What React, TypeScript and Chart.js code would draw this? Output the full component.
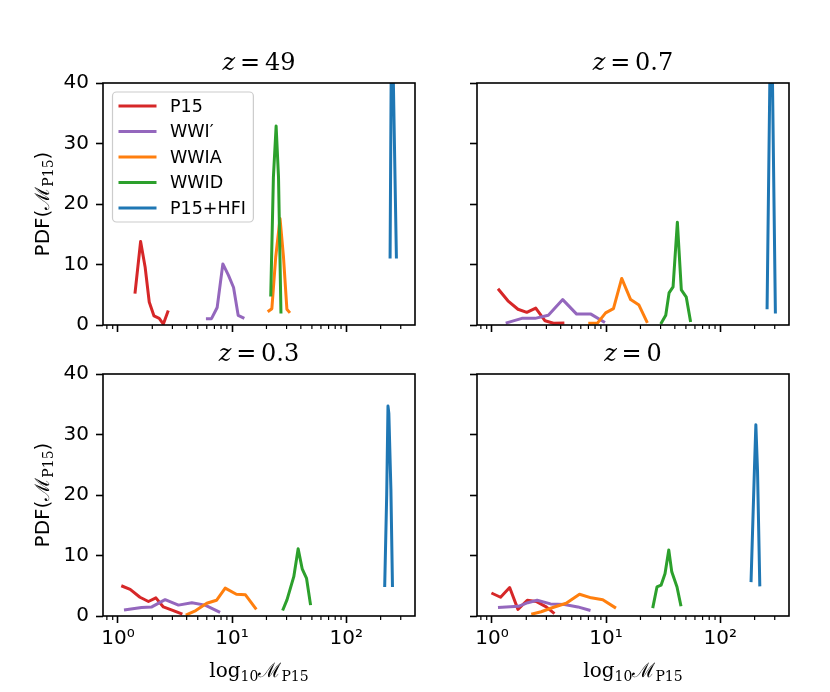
import { useEffect, useRef } from "react";
import { Chart, registerables } from "chart.js";

Chart.register(...registerables);

type Pt = [number, number];

// series + panels
const seriesNames = ["P15", "WWI′", "WWIA", "WWID", "P15+HFI"];
const seriesColors = ["#d62728", "#9467bd", "#ff7f0e", "#2ca02c", "#1f77b4"];
const panelZ = ["49", "0.7", "0.3", "0"];

// axis ticks
const xMajorTicks = [1, 10, 100];
const xTickLabels = ["10⁰", "10¹", "10²"];
const xMinorTicks = [0.8, 0.9, 2, 3, 4, 5, 6, 7, 8, 9, 20, 30, 40, 50, 60, 70, 80, 90, 200, 300];
const yTicks = [0, 10, 20, 30, 40];
const X_MIN = 0.74;
const X_MAX = 400;
const Y_MIN = 0;
const Y_MAX = 40;

// z = 49
const z49P15: Pt[] = [[1.41, 5.2], [1.58, 13.8], [1.73, 9.6], [1.88, 3.8], [2.07, 1.5], [2.3, 1.1], [2.5, 0.15], [2.76, 2.4]];
const z49WWIp: Pt[] = [[5.9, 1.05], [6.6, 1.05], [7.4, 2.9], [8.3, 10.1], [9.3, 8.2], [10.3, 6.2], [11.3, 1.6], [12.8, 1.1]];
const z49WWIA: Pt[] = [[20.5, 2.2], [22.3, 2.7], [24.1, 11.2], [26.3, 17.6], [28.2, 11.2], [30.2, 2.6], [32.1, 2.0]];
const z49WWID: Pt[] = [[21.8, 4.7], [23.0, 24.4], [24.3, 32.9], [25.5, 24.4], [26.8, 1.9]];
const z49HFI: Pt[] = [[242, 11], [250, 56], [275, 11]];

// z = 0.7
const z07P15: Pt[] = [[1.13, 6.0], [1.38, 4.0], [1.69, 2.6], [2.02, 2.1], [2.42, 2.8], [2.92, 0.7], [3.46, 0.3], [4.31, 0.35]];
const z07WWIp: Pt[] = [[1.32, 0.3], [1.83, 1.1], [2.39, 1.1], [3.12, 1.6], [4.17, 4.2], [5.52, 1.8], [7.36, 1.8], [9.77, 0.4]];
const z07WWIA: Pt[] = [[6.98, 0.3], [8.43, 0.35], [9.9, 2.0], [11.6, 2.7], [13.7, 7.7], [16.4, 4.2], [19.4, 3.3], [23.0, 0.35]];
const z07WWID: Pt[] = [[30.1, 0.15], [33.3, 1.6], [35.6, 5.3], [38.6, 6.3], [42.1, 17.0], [45.6, 5.8], [50.4, 4.6], [55, 0.5]];
const z07HFI: Pt[] = [[257, 2.6], [279, 58], [304, 1.9]];

// z = 0.3
const z03P15: Pt[] = [[1.07, 5.0], [1.28, 4.4], [1.56, 3.1], [1.85, 2.4], [2.15, 3.0], [2.5, 1.5], [3.06, 0.9], [3.67, 0.3]];
const z03WWIp: Pt[] = [[1.13, 1.0], [1.61, 1.4], [1.98, 1.5], [2.59, 2.7], [3.39, 1.8], [4.44, 2.2], [5.8, 1.8], [7.85, 0.6]];
const z03WWIA: Pt[] = [[3.93, 0.15], [4.81, 0.9], [6.0, 2.1], [7.3, 2.6], [8.7, 4.6], [10.9, 3.6], [13.1, 3.5], [16.3, 1.1]];
const z03WWID: Pt[] = [[27.7, 0.9], [30.3, 2.7], [34.7, 6.5], [37.9, 11.1], [41.1, 7.8], [44.9, 6.2], [48.7, 1.8]];
const z03HFI: Pt[] = [[217, 4.8], [226, 20], [232, 34.7], [236, 33.5], [246, 21], [254, 4.8]];

// z = 0
const z0P15: Pt[] = [[0.99, 3.8], [1.19, 3.1], [1.43, 4.7], [1.69, 1.1], [2.04, 2.6], [2.44, 2.4], [2.99, 1.5], [3.53, 0.4]];
const z0WWIp: Pt[] = [[1.13, 1.4], [1.71, 1.6], [2.06, 2.2], [2.49, 2.6], [3.26, 2.0], [4.32, 1.9], [5.65, 1.5], [7.3, 0.9]];
const z0WWIA: Pt[] = [[2.21, 0.3], [2.7, 0.7], [3.42, 1.4], [4.47, 2.1], [5.85, 3.6], [7.4, 3.0], [9.35, 2.7], [12.2, 1.3]];
const z0WWID: Pt[] = [[25.6, 1.3], [27.9, 4.8], [30.3, 5.1], [32.8, 7.0], [35.4, 10.9], [37.6, 7.3], [41.8, 4.8], [45.3, 1.6]];
const z0HFI: Pt[] = [[186, 5.6], [199, 24], [205, 31.6], [212, 24], [222, 4.9]];

const panelSeries: Pt[][][] = [
  [z49P15, z49WWIp, z49WWIA, z49WWID, z49HFI],
  [z07P15, z07WWIp, z07WWIA, z07WWID, z07HFI],
  [z03P15, z03WWIp, z03WWIA, z03WWID, z03HFI],
  [z0P15, z0WWIp, z0WWIA, z0WWID, z0HFI],
];

// layout (page pixels)
const PW = 312;
const PH = 242;
const COL_LEFT = [103, 477];
const ROW_TOP = [83, 374];
const AX_W = 80;
const AX_H = 50;
const PAD_T = 20;
const PAD_R = 20;
const LINE_W = 3;
const TICK_FONT = 20;
const LEGEND_FONT = 17.5;
const SERIF = '"DejaVu Serif", serif';
const SANS = '"DejaVu Sans", sans-serif';

const framePlugin = {
  id: "frame",
  afterDatasetsDraw(chart: any) {
    const { ctx, chartArea: a } = chart;
    ctx.save();
    ctx.strokeStyle = "#000";
    ctx.lineWidth = 1.6;
    ctx.strokeRect(a.left, a.top, a.right - a.left, a.bottom - a.top);
    ctx.restore();
  },
};

const minorTickPlugin = {
  id: "minorTicks",
  afterDraw(chart: any) {
    const { ctx, chartArea: a } = chart;
    const xs = chart.scales.x;
    ctx.save();
    ctx.strokeStyle = "#000";
    ctx.lineWidth = 1.2;
    xMinorTicks.forEach((v) => {
      const px = xs.getPixelForValue(v);
      if (px < a.left || px > a.right) return;
      ctx.beginPath();
      ctx.moveTo(px, a.bottom);
      ctx.lineTo(px, a.bottom + 4);
      ctx.stroke();
    });
    ctx.restore();
  },
};

const legendPlugin = {
  id: "insetLegend",
  afterDraw(chart: any) {
    const { ctx, chartArea: a } = chart;
    const row = 25.5;
    ctx.save();
    ctx.font = `${LEGEND_FONT}px ${SANS}`;
    const textW = Math.max(...seriesNames.map((n) => ctx.measureText(n).width));
    const bx = a.left + 9.5;
    const by = a.top + 9;
    const bw = 57 + textW + 8;
    const bh = 28 + row * (seriesNames.length - 1);
    ctx.beginPath();
    ctx.roundRect(bx, by, bw, bh, 4);
    ctx.fillStyle = "rgba(255,255,255,0.8)";
    ctx.fill();
    ctx.strokeStyle = "#cccccc";
    ctx.lineWidth = 1.2;
    ctx.stroke();
    seriesNames.forEach((name, i) => {
      const cy = by + 14 + i * row;
      ctx.strokeStyle = seriesColors[i];
      ctx.lineWidth = LINE_W;
      ctx.beginPath();
      ctx.moveTo(bx + 6, cy);
      ctx.lineTo(bx + 44, cy);
      ctx.stroke();
      ctx.fillStyle = "#000";
      ctx.textBaseline = "middle";
      ctx.textAlign = "left";
      ctx.fillText(name, bx + 57.5, cy + 1);
    });
    ctx.restore();
  },
};

function Panel({ index }: { index: number }) {
  const ref = useRef<HTMLCanvasElement | null>(null);
  const col = index % 2;
  const row = Math.floor(index / 2);
  const showX = row === 1;
  const showY = col === 0;
  const left = COL_LEFT[col] - AX_W;
  const top = ROW_TOP[row] - PAD_T;
  const width = AX_W + PW + PAD_R;
  const height = PAD_T + PH + AX_H;

  useEffect(() => {
    if (!ref.current) return;
    const chart = new Chart(ref.current, {
      type: "scatter",
      data: {
        datasets: panelSeries[index].map((pts, i) => ({
          label: seriesNames[i],
          data: pts.map(([x, y]) => ({ x, y })),
          borderColor: seriesColors[i],
          backgroundColor: seriesColors[i],
          borderWidth: LINE_W,
          borderJoinStyle: "round" as const,
          showLine: true,
          pointRadius: 0,
          pointHoverRadius: 0,
          order: -i,
        })),
      },
      options: {
        animation: false,
        responsive: false,
        maintainAspectRatio: false,
        events: [],
        layout: { padding: { top: PAD_T, right: PAD_R, left: 0, bottom: 0 } },
        plugins: {
          legend: { display: false },
          tooltip: { enabled: false },
          title: { display: false },
        },
        scales: {
          x: {
            type: "logarithmic",
            min: X_MIN,
            max: X_MAX,
            bounds: "data",
            afterBuildTicks: (s: any) => {
              s.ticks = xMajorTicks.map((v) => ({ value: v, major: true }));
            },
            afterFit: (s: any) => {
              s.height = AX_H;
            },
            border: { display: false },
            grid: {
              drawOnChartArea: false,
              drawTicks: true,
              tickLength: 7,
              tickWidth: 1.6,
              tickColor: "#000",
            },
            ticks: {
              autoSkip: false,
              maxRotation: 0,
              minRotation: 0,
              padding: 4,
              color: "#000",
              font: { family: SANS, size: TICK_FONT },
              callback: (v: any) => {
                if (!showX) return "";
                const k = xMajorTicks.indexOf(Number(v));
                return k >= 0 ? xTickLabels[k] : "";
              },
            },
          },
          y: {
            type: "linear",
            min: Y_MIN,
            max: Y_MAX,
            afterBuildTicks: (s: any) => {
              s.ticks = yTicks.map((v) => ({ value: v }));
            },
            afterFit: (s: any) => {
              s.width = AX_W;
            },
            border: { display: false },
            grid: {
              drawOnChartArea: false,
              drawTicks: true,
              tickLength: 7,
              tickWidth: 1.6,
              tickColor: "#000",
            },
            ticks: {
              autoSkip: false,
              padding: 7,
              color: "#000",
              font: { family: SANS, size: TICK_FONT },
              callback: (v: any) => (showY ? String(v) : ""),
            },
          },
        },
      } as any,
      plugins: index === 0 ? [framePlugin, minorTickPlugin, legendPlugin] : [framePlugin, minorTickPlugin],
    });
    return () => chart.destroy();
  }, [index]);

  return (
    <canvas
      ref={ref}
      width={width}
      height={height}
      style={{ position: "absolute", left, top, width, height }}
    />
  );
}

const subStyle = { fontSize: 14, position: "relative" as const, top: 4, lineHeight: 0 };

export default function App() {
  return (
    <div
      style={{
        position: "absolute",
        left: 0,
        top: 0,
        width: 830,
        height: 692,
        background: "#fff",
        overflow: "hidden",
        color: "#000",
      }}
    >
      {[0, 1, 2, 3].map((i) => (
        <Panel key={i} index={i} />
      ))}
      {panelZ.map((z, i) => (
        <div
          key={"t" + i}
          style={{
            position: "absolute",
            left: COL_LEFT[i % 2],
            width: PW,
            top: ROW_TOP[Math.floor(i / 2)] - 35,
            textAlign: "center",
            fontFamily: SERIF,
            fontSize: 24,
            lineHeight: "28px",
            whiteSpace: "nowrap",
          }}
        >
          <i>z</i>
          {"\u2009=\u2009"}
          {z}
        </div>
      ))}
      {ROW_TOP.map((t, r) => (
        <div
          key={"y" + r}
          style={{
            position: "absolute",
            left: 42,
            top: t + PH / 2,
            transform: "translate(-50%, -50%) rotate(-90deg)",
            whiteSpace: "nowrap",
            fontFamily: SANS,
            fontSize: 20,
            lineHeight: "24px",
          }}
        >
          PDF(
          <span style={{ fontFamily: SERIF }}>
            ℳ<span style={subStyle}>P15</span>
          </span>
          )
        </div>
      ))}
      {COL_LEFT.map((l, c) => (
        <div
          key={"x" + c}
          style={{
            position: "absolute",
            left: l,
            width: PW,
            top: 658,
            textAlign: "center",
            fontFamily: SERIF,
            fontSize: 20,
            lineHeight: "24px",
            whiteSpace: "nowrap",
          }}
        >
          log<span style={subStyle}>10</span>ℳ<span style={subStyle}>P15</span>
        </div>
      ))}
    </div>
  );
}
